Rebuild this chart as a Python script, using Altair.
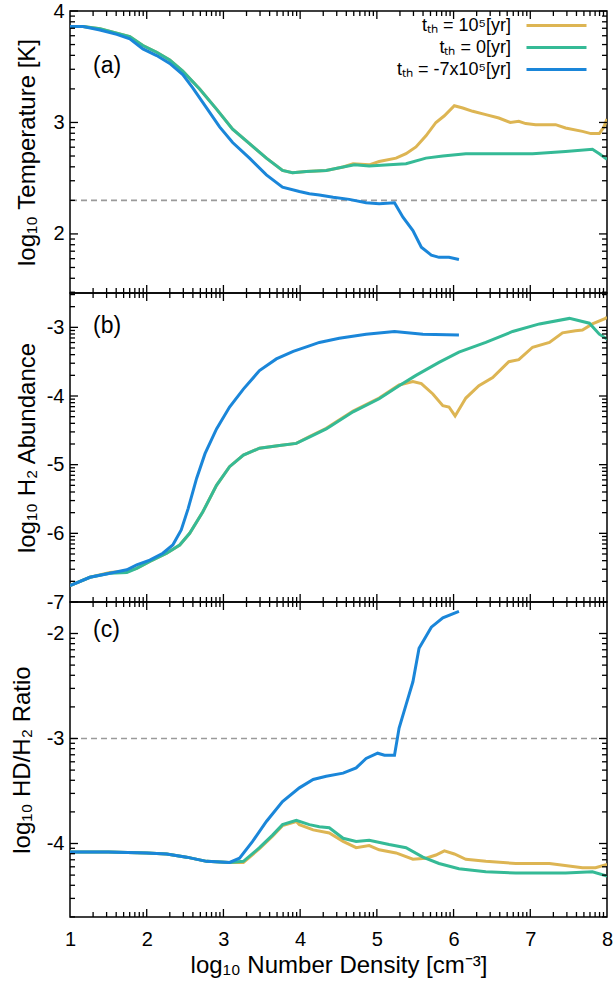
import math
import altair as alt
import pandas as pd

FONT = "Liberation Sans"
LABELS = ["tₜₕ = 10⁵[yr]", "tₜₕ = 0[yr]", "tₜₕ = -7x10⁵[yr]"]
COLORS = ["#DDB553", "#35BA96", "#1A86D9"]

# ---------------- Panel (a): log10 Temperature ----------------
a_gold_n = [1.0, 1.17, 1.39, 1.61, 1.78, 1.95, 2.13, 2.30, 2.47, 2.69, 2.91, 3.12, 3.34, 3.56, 3.77, 3.90, 4.08,
            4.34, 4.56, 4.69, 4.90, 5.03, 5.25, 5.38, 5.51, 5.64, 5.77, 5.88, 6.01, 6.12, 6.25, 6.42, 6.59, 6.74,
            6.85, 6.94, 7.07, 7.33, 7.46, 7.68, 7.79, 7.90, 7.96, 8.0]
a_gold_v = [3.86, 3.86, 3.84, 3.80, 3.77, 3.69, 3.63, 3.56, 3.46, 3.30, 3.12, 2.94, 2.81, 2.68, 2.57, 2.55, 2.56,
            2.57, 2.60, 2.63, 2.62, 2.65, 2.68, 2.72, 2.78, 2.88, 3.00, 3.06, 3.15, 3.13, 3.10, 3.07, 3.04, 3.00,
            3.01, 2.99, 2.98, 2.98, 2.95, 2.92, 2.90, 2.90, 2.96, 3.03]
a_green_n = [1.0, 1.17, 1.39, 1.61, 1.78, 1.95, 2.13, 2.30, 2.47, 2.69, 2.91, 3.12, 3.34, 3.56, 3.77, 3.90, 4.08,
             4.34, 4.56, 4.71, 4.90, 5.16, 5.38, 5.64, 5.86, 6.16, 6.59, 7.03, 7.46, 7.81, 7.90, 8.0]
a_green_v = [3.86, 3.86, 3.84, 3.80, 3.77, 3.69, 3.63, 3.56, 3.46, 3.30, 3.12, 2.94, 2.81, 2.68, 2.57, 2.55, 2.56,
             2.57, 2.60, 2.62, 2.61, 2.62, 2.63, 2.68, 2.70, 2.72, 2.72, 2.72, 2.74, 2.76, 2.72, 2.67]
a_blue_n = [1.0, 1.17, 1.39, 1.61, 1.78, 1.95, 2.13, 2.30, 2.47, 2.60, 2.78, 2.95, 3.12, 3.34, 3.56, 3.77, 3.99,
            4.12, 4.25, 4.43, 4.64, 4.86, 5.03, 5.23, 5.34, 5.47, 5.58, 5.71, 5.81, 5.94, 6.07]
a_blue_v = [3.86, 3.86, 3.83, 3.79, 3.75, 3.66, 3.60, 3.53, 3.43, 3.31, 3.13, 2.96, 2.82, 2.68, 2.53, 2.42, 2.38,
            2.36, 2.35, 2.33, 2.31, 2.28, 2.27, 2.28, 2.15, 2.03, 1.88, 1.81, 1.79, 1.79, 1.77]

# ---------------- Panel (b): log10 H2 abundance ----------------
b_green_n = [1.0, 1.26, 1.52, 1.74, 1.87, 2.04, 2.26, 2.43, 2.56, 2.73, 2.91, 3.08, 3.26, 3.47, 3.73, 3.95, 4.12,
             4.34, 4.69, 5.03, 5.29, 5.51, 5.81, 6.07, 6.42, 6.77, 7.12, 7.51, 7.77, 7.90, 8.0]
b_green_v = [-6.76, -6.64, -6.58, -6.57, -6.51, -6.41, -6.29, -6.17, -6.00, -5.69, -5.30, -5.03, -4.86, -4.76,
             -4.72, -4.69, -4.60, -4.48, -4.23, -4.04, -3.85, -3.70, -3.51, -3.36, -3.22, -3.06, -2.95, -2.87,
             -2.94, -3.10, -3.17]
b_gold_n = [1.0, 1.26, 1.52, 1.74, 1.87, 2.04, 2.26, 2.43, 2.56, 2.73, 2.91, 3.08, 3.26, 3.47, 3.73, 3.95, 4.12,
            4.34, 4.69, 5.03, 5.29, 5.47, 5.58, 5.73, 5.86, 5.94, 6.02, 6.16, 6.33, 6.51, 6.72, 6.85, 7.03, 7.25,
            7.42, 7.59, 7.68, 7.81, 7.98, 8.0]
b_gold_v = [-6.76, -6.64, -6.57, -6.55, -6.51, -6.41, -6.29, -6.17, -6.00, -5.69, -5.30, -5.03, -4.86, -4.76,
            -4.72, -4.69, -4.59, -4.47, -4.22, -4.03, -3.84, -3.79, -3.82, -3.97, -4.14, -4.16, -4.29, -4.03,
            -3.85, -3.73, -3.50, -3.47, -3.29, -3.22, -3.08, -3.05, -3.04, -2.95, -2.87, -2.85]
b_blue_n = [1.0, 1.26, 1.52, 1.74, 1.87, 2.04, 2.21, 2.34, 2.45, 2.54, 2.65, 2.76, 2.91, 3.08, 3.26, 3.47, 3.69,
            3.91, 4.12, 4.25, 4.51, 4.86, 5.23, 5.60, 6.07]
b_blue_v = [-6.76, -6.64, -6.58, -6.53, -6.46, -6.39, -6.29, -6.17, -5.95, -5.64, -5.20, -4.84, -4.48, -4.16,
            -3.90, -3.63, -3.46, -3.35, -3.27, -3.22, -3.16, -3.10, -3.06, -3.10, -3.11]

# ---------------- Panel (c): log10 HD/H2 ratio ----------------
c_gold_n = [1.0, 1.5, 2.0, 2.26, 2.52, 2.78, 3.08, 3.26, 3.47, 3.64, 3.77, 3.95, 3.99, 4.17, 4.38, 4.56, 4.73,
            4.90, 5.03, 5.25, 5.47, 5.64, 5.77, 5.88, 6.01, 6.16, 6.42, 6.81, 7.25, 7.68, 7.85, 8.0]
c_gold_v = [-4.08, -4.08, -4.09, -4.10, -4.13, -4.17, -4.18, -4.18, -4.05, -3.93, -3.83, -3.79, -3.82, -3.87,
            -3.90, -3.98, -4.04, -4.02, -4.06, -4.09, -4.15, -4.14, -4.11, -4.07, -4.10, -4.15, -4.17, -4.19,
            -4.19, -4.23, -4.23, -4.20]
c_green_n = [1.0, 1.5, 2.0, 2.26, 2.52, 2.78, 3.08, 3.26, 3.47, 3.64, 3.77, 3.95, 4.12, 4.25, 4.38, 4.56, 4.73,
             4.90, 5.16, 5.38, 5.60, 5.81, 6.07, 6.42, 6.81, 7.46, 7.81, 8.0]
c_green_v = [-4.08, -4.08, -4.09, -4.10, -4.13, -4.17, -4.18, -4.17, -4.04, -3.92, -3.82, -3.78, -3.82, -3.84,
             -3.85, -3.95, -3.98, -3.97, -4.01, -4.04, -4.13, -4.19, -4.24, -4.27, -4.28, -4.28, -4.27, -4.31]
c_blue_n = [1.0, 1.5, 2.0, 2.26, 2.52, 2.78, 3.08, 3.21, 3.38, 3.56, 3.77, 3.99, 4.17, 4.34, 4.56, 4.73, 4.86,
            5.01, 5.10, 5.23, 5.29, 5.38, 5.47, 5.55, 5.71, 5.86, 6.07]
c_blue_v = [-4.08, -4.08, -4.09, -4.10, -4.13, -4.17, -4.18, -4.14, -3.98, -3.79, -3.60, -3.47, -3.39, -3.36,
            -3.33, -3.28, -3.19, -3.14, -3.16, -3.16, -2.90, -2.68, -2.46, -2.14, -1.94, -1.85, -1.79]

# reference (dashed) levels
a_ref = [2.301]
c_ref = [-3.0]

X_MAJOR = [1, 2, 3, 4, 5, 6, 7, 8]
A_MAJOR = [2, 3, 4]
B_MAJOR = [-7, -6, -5, -4, -3]
C_MAJOR = [-4, -3, -2]

W = 537
TICK = 8
MINOR = 5
LABEL_SIZE = 20
TITLE_SIZE = 24


def log_minor(lo, hi):
    out = []
    for d in range(math.floor(lo) - 1, math.ceil(hi) + 1):
        for k in range(2, 10):
            v = d + math.log10(k)
            if lo < v < hi:
                out.append(round(v, 5))
    return out


def make_df(parts):
    rows = []
    for s, ns, vs in parts:
        for i, (n, v) in enumerate(zip(ns, vs)):
            rows.append({"series": s, "n": n, "v": v, "i": i})
    return pd.DataFrame(rows)


def tick_layers(xs, ys, height, ymajor, yminor):
    """Inward-pointing tick marks on all four sides, placed through the panel's scales."""
    out = []
    xmajor = [v for v in X_MAJOR if 1 < v < 8]
    xminor = log_minor(1, 8)
    for vals, ln in ((xmajor, TICK), (xminor, MINOR)):
        d = pd.DataFrame({"t": vals})
        base = alt.Chart(d).mark_rule(color="black", strokeWidth=1.3)
        xe = alt.X("t:Q", scale=xs, axis=None)
        out.append(base.encode(x=xe, y=alt.value(height - ln), y2=alt.value(height)))
        out.append(base.encode(x=xe, y=alt.value(0), y2=alt.value(ln)))
    for vals, ln in ((ymajor, TICK), (yminor, MINOR)):
        d = pd.DataFrame({"t": vals})
        base = alt.Chart(d).mark_rule(color="black", strokeWidth=1.3)
        ye = alt.Y("t:Q", scale=ys, axis=None)
        out.append(base.encode(y=ye, x=alt.value(0), x2=alt.value(ln)))
        out.append(base.encode(y=ye, x=alt.value(W - ln), x2=alt.value(W)))
    return out


def panel(df, ydom, height, ymajor, ytitle, ytitle_x, tag, tag_offset, ref=None, legend=None, xlabels=False):
    xs = alt.Scale(domain=[1, 8], nice=False, zero=False)
    ys = alt.Scale(domain=ydom, nice=False, zero=False)
    yminor = log_minor(ydom[0], ydom[1])

    if xlabels:
        x_axis = alt.Axis(values=X_MAJOR, ticks=False, domain=False, grid=False,
                          labelFont=FONT, labelFontSize=LABEL_SIZE, labelColor="black", labelFlush=False,
                          labelOverlap=False, labelPadding=12, labelExpr="datum.value + ''",
                          title="log₁₀ Number Density [cm⁻³]", titleFont=FONT, titleFontSize=TITLE_SIZE,
                          titleFontWeight="normal", titleColor="black", titlePadding=4)
    else:
        x_axis = None
    y_axis = alt.Axis(values=ymajor, ticks=False, domain=False, grid=False,
                      labelFont=FONT, labelFontSize=LABEL_SIZE, labelColor="black", labelPadding=6,
                      labelOverlap=False, labelExpr="datum.value + ''",
                      title=ytitle, titleFont=FONT, titleFontSize=TITLE_SIZE, titleFontWeight="normal",
                      titleColor="black", titleAngle=270, titleBaseline="middle", titleAlign="center",
                      titleX=ytitle_x, titleY=height / 2)

    color_kw = dict(scale=alt.Scale(domain=LABELS, range=COLORS))
    color_kw["legend"] = legend if legend is not None else None

    layers = []
    if ref is not None:
        layers.append(
            alt.Chart(pd.DataFrame({"r": ref})).mark_rule(
                color="#9a9a9a", strokeDash=[6, 4], strokeWidth=1.6
            ).encode(y=alt.Y("r:Q", scale=ys, axis=None))
        )
    layers.append(
        alt.Chart(df).mark_line(strokeWidth=3, clip=True).encode(
            x=alt.X("n:Q", scale=xs, axis=x_axis),
            y=alt.Y("v:Q", scale=ys, axis=y_axis),
            color=alt.Color("series:N", **color_kw),
            order=alt.Order("i:Q"),
        )
    )
    layers.extend(tick_layers(xs, ys, height, ymajor, yminor))
    return alt.layer(*layers).resolve_axis(x="independent", y="independent").properties(
        width=W, height=height,
        title=alt.TitleParams(text=tag, anchor="start", orient="top", frame="group", offset=tag_offset,
                              dx=23, fontSize=23, fontWeight="normal", font=FONT, color="black",
                              baseline="middle"),
    )


df_a = make_df([(LABELS[0], a_gold_n, a_gold_v), (LABELS[1], a_green_n, a_green_v), (LABELS[2], a_blue_n, a_blue_v)])
df_b = make_df([(LABELS[0], b_gold_n, b_gold_v), (LABELS[1], b_green_n, b_green_v), (LABELS[2], b_blue_n, b_blue_v)])
df_c = make_df([(LABELS[0], c_gold_n, c_gold_v), (LABELS[1], c_green_n, c_green_v), (LABELS[2], c_blue_n, c_blue_v)])

leg = alt.Legend(orient="none", legendX=475, legendY=3, title=None, symbolType="M-3,0H3",
                 symbolSize=400, symbolStrokeWidth=3, labelAlign="right", labelOffset={"expr": "-57"},
                 labelFont=FONT, labelFontSize=18, labelColor="black", rowPadding=1,
                 direction="vertical")

pa = panel(df_a, [1.47, 4.0], 282, A_MAJOR, "log₁₀ Temperature [K]", -43, "(a)", -88, ref=a_ref, legend=leg)
pb = panel(df_b, [-7.0, -2.5], 309, B_MAJOR, "log₁₀ H₂ Abundance", -43, "(b)", -57)
pc = panel(df_c, [-4.7, -1.7], 315, C_MAJOR, "log₁₀ HD/H₂ Ratio", -48, "(c)", -52, ref=c_ref, xlabels=True)

chart = alt.vconcat(pa, pb, pc, spacing=0, bounds="flush").resolve_scale(color="independent").properties(
    padding={"left": 9, "top": 0, "right": 0, "bottom": 4}
).configure(background="white").configure_view(stroke="black", strokeWidth=1.5)

chart.save("out.html", embed_options={"renderer": "svg", "actions": False})
